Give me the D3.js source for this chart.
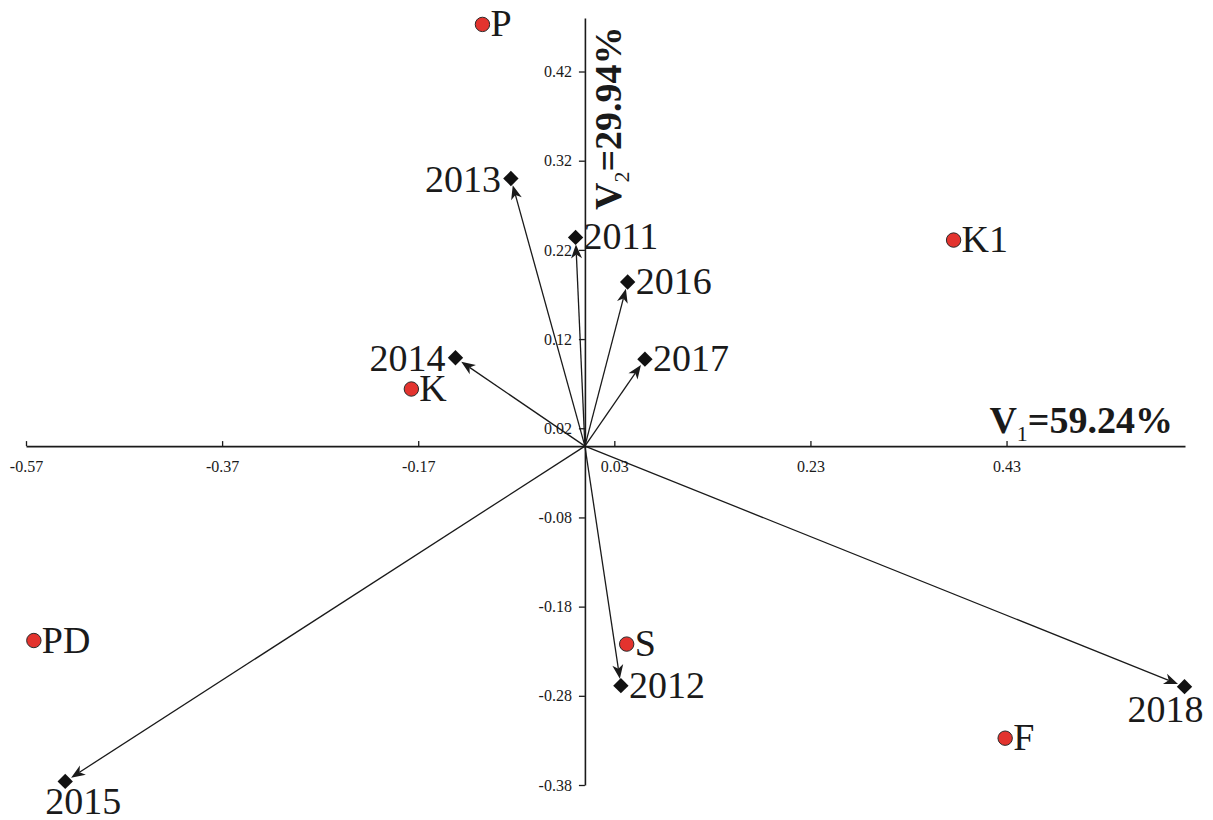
<!DOCTYPE html>
<html>
<head>
<meta charset="utf-8">
<script src="https://cdn.jsdelivr.net/npm/d3@7"></script>
<style>
  html, body { margin: 0; padding: 0; background: #fff; }
  svg { display: block; }
  text { font-family: "Liberation Serif", "Times New Roman", serif; fill: #1a1a1a; }
</style>
</head>
<body>
<svg id="chart" width="1213" height="820"></svg>
<script>
// Sample sites (red circles): first two ordination scores
const siteNames = ["P", "K1", "K", "PD", "S", "F"];
const siteV1 = [-0.1045, 0.376, -0.177, -0.562, 0.0426, 0.4286];
const siteV2 = [0.4728, 0.231, 0.064, -0.218, -0.222, -0.3275];

// Years (black diamonds, arrows from the origin)
const yearNames = ["2011", "2012", "2013", "2014", "2015", "2016", "2017", "2018"];
const yearV1 = [-0.0095, 0.0367, -0.0755, -0.132, -0.530, 0.0436, 0.0612, 0.6115];
const yearV2 = [0.234, -0.2686, 0.300, 0.099, -0.376, 0.184, 0.0975, -0.2697];

// Axis ticks
const xTicks = [-0.57, -0.37, -0.17, 0.03, 0.23, 0.43];
const yTicks = [0.42, 0.32, 0.22, 0.12, 0.02, -0.08, -0.18, -0.28, -0.38];

// Axis titles: variance explained
const axisTitles = { v1: { sub: "1", pct: "=59.24%" }, v2: { sub: "2", pct: "=29.94%" } };

// Which side of its mark each label sits on
const labelSide = {
  P: "right", K1: "right", K: "right", PD: "right", S: "right", F: "right",
  "2011": "right", "2012": "right", "2013": "left", "2014": "left",
  "2015": "belowRight", "2016": "right", "2017": "right", "2018": "belowLeft"
};
const sideOffset = {
  right: { dx: 8, dy: 12, anchor: "start" },
  left: { dx: -10, dy: 13, anchor: "end" },
  belowLeft: { dx: -19, dy: 35, anchor: "middle" },
  belowRight: { dx: 18, dy: 33, anchor: "middle" }
};

const svg = d3.select("#chart");

const x = d3.scaleLinear().domain([-0.57, 0.612]).range([26, 1185]);
const y = d3.scaleLinear().domain([-0.38, 0.48]).range([785, 18]);
const x0 = x(0), y0 = y(0);
// two decimals with a plain hyphen for negatives
const fmt = v => v.toFixed(2);

// Horizontal axis through the origin, ticks pointing up
const gx = svg.append("g")
  .attr("transform", `translate(0,${y0})`)
  .call(d3.axisBottom(x).tickValues(xTicks).tickFormat(fmt).tickSize(-5).tickSizeOuter(0).tickPadding(15));
// Vertical axis through the origin, ticks pointing left
const gy = svg.append("g")
  .attr("transform", `translate(${x0},0)`)
  .call(d3.axisLeft(y).tickValues(yTicks).tickFormat(fmt).tickSize(6).tickSizeOuter(0).tickPadding(7));

[gx, gy].forEach(g => {
  g.select(".domain").attr("stroke", "#1a1a1a").attr("stroke-width", 1.6);
  g.selectAll(".tick line").attr("stroke", "#1a1a1a").attr("stroke-width", 1.3);
  g.selectAll(".tick text")
    .attr("font-family", "Liberation Serif, Times New Roman, serif")
    .attr("font-size", 16).attr("fill", "#1a1a1a");
});

// Arrows from the origin to each year
const years = yearNames.map((n, i) => ({ name: n, v1: yearV1[i], v2: yearV2[i] }));
const arrows = svg.append("g");
years.forEach(d => {
  const px = x(d.v1), py = y(d.v2);
  const ang = Math.atan2(py - y0, px - x0);
  const len = Math.hypot(px - x0, py - y0);
  const tipDist = len - 7;
  const tx = x0 + Math.cos(ang) * tipDist, ty = y0 + Math.sin(ang) * tipDist;
  const notch = tipDist - 10;
  arrows.append("line")
    .attr("x1", x0).attr("y1", y0)
    .attr("x2", x0 + Math.cos(ang) * notch).attr("y2", y0 + Math.sin(ang) * notch)
    .attr("stroke", "#1a1a1a").attr("stroke-width", 1.3);
  arrows.append("path")
    .attr("d", "M0,0 L-14,-5.5 L-10,0 L-14,5.5 Z")
    .attr("transform", `translate(${tx},${ty}) rotate(${ang * 180 / Math.PI})`)
    .attr("fill", "#1a1a1a");
});

// Year markers
svg.append("g").selectAll("path").data(years).join("path")
  .attr("d", d3.symbol().type(d3.symbolSquare).size(118))
  .attr("transform", d => `translate(${x(d.v1)},${y(d.v2)}) rotate(45)`)
  .attr("fill", "#111");

// Site markers
const sites = siteNames.map((n, i) => ({ name: n, v1: siteV1[i], v2: siteV2[i] }));
svg.append("g").selectAll("circle").data(sites).join("circle")
  .attr("cx", d => x(d.v1)).attr("cy", d => y(d.v2)).attr("r", 7.2)
  .attr("fill", "#e3332e").attr("stroke", "#2a2a2a").attr("stroke-width", 1);

// Point labels
svg.append("g").selectAll("text").data([...sites, ...years]).join("text")
  .each(function (d) {
    const o = sideOffset[labelSide[d.name]];
    d3.select(this)
      .attr("x", x(d.v1) + o.dx).attr("y", y(d.v2) + o.dy)
      .attr("text-anchor", o.anchor);
  })
  .attr("font-size", 38)
  .text(d => d.name);

// Axis titles
const t1 = svg.append("text")
  .attr("x", 1173).attr("y", 433)
  .attr("text-anchor", "end").attr("font-size", 38).attr("font-weight", "bold");
t1.append("tspan").text("V");
t1.append("tspan").attr("font-size", 22).attr("font-weight", "normal").attr("dy", 8).text(axisTitles.v1.sub);
t1.append("tspan").attr("dy", -8).text(axisTitles.v1.pct);

const t2 = svg.append("text")
  .attr("transform", "translate(621,210) rotate(-90)")
  .attr("text-anchor", "start").attr("font-size", 38).attr("font-weight", "bold");
t2.append("tspan").text("V");
t2.append("tspan").attr("font-size", 22).attr("font-weight", "normal").attr("dy", 8).text(axisTitles.v2.sub);
t2.append("tspan").attr("dy", -8).text(axisTitles.v2.pct);
</script>
</body>
</html>
